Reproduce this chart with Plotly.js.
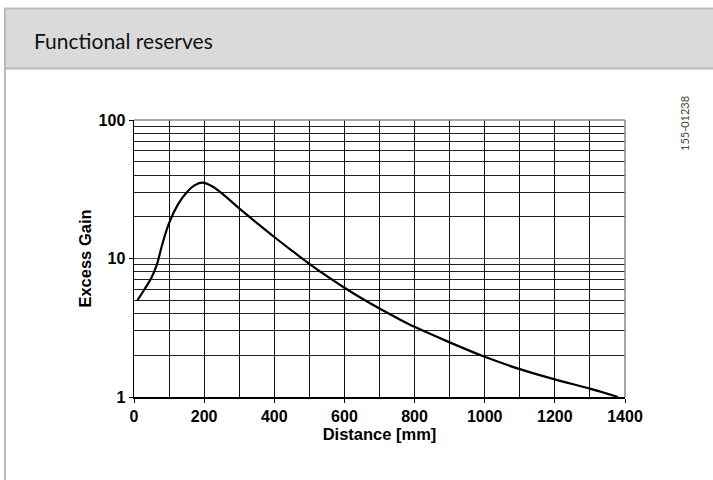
<!DOCTYPE html>
<html><head><meta charset="utf-8">
<script src="https://cdn.plot.ly/plotly-3.0.1.min.js"></script>
<style>html,body{margin:0;padding:0;background:#fff;}#chart{width:713px;height:480px;}</style>
</head><body><div id="chart"></div>
<script>
// Data
const distanceMm = [10, 30, 50, 65, 80, 100, 125, 150, 175, 195, 225, 260, 300, 350, 400, 450, 500, 550, 600, 650, 700, 750, 800, 900, 1000, 1100, 1200, 1300, 1380];
const excessGain = [5.0, 6.0, 7.3, 9.0, 12.5, 18.0, 24.5, 30.0, 34.0, 35.3, 33.0, 28.2, 23.0, 18.1, 14.3, 11.4, 9.15, 7.45, 6.15, 5.14, 4.35, 3.72, 3.21, 2.48, 1.95, 1.59, 1.34, 1.15, 1.0];
const xTickVals = [0, 200, 400, 600, 800, 1000, 1200, 1400];
const yTickVals = [1, 10, 100];
const yTickText = ['1', '10', '100'];
const yGridVals = [2,3,4,5,6,7,8,9,20,30,40,50,60,70,80,90];
const titleText = 'Functional reserves';
const xTitle = 'Distance [mm]';
const yTitle = 'Excess Gain';
const docId = '155-01238';

// geometry of plot area in pixels
const L = 134, R = 625, T = 120, B = 397, W = 713, H = 480;
const px = x => (x - L) / (R - L);
const py = y => (B - y) / (B - T);

const trace = {
  x: distanceMm, y: excessGain, type: 'scatter', mode: 'lines',
  line: {color: '#000', width: 2.2, shape: 'spline', smoothing: 1},
  hoverinfo: 'skip', showlegend: false
};

const fam = 'Liberation Sans, Arial, sans-serif';
const tickFont = {family: fam, size: 16, color: '#000', weight: 'bold'};
const axTitleFont = {family: fam, size: 16.5, color: '#000', weight: 'bold'};

const layout = {
  width: W, height: H,
  margin: {l: L, r: W - R, t: T, b: H - B, pad: 0},
  paper_bgcolor: '#fff', plot_bgcolor: '#fff',
  showlegend: false,
  xaxis: {
    range: [0, 1400], tickvals: xTickVals, ticks: 'outside', ticklen: 4, tickcolor: '#000', tickwidth: 1,
    showline: true, linecolor: '#000', linewidth: 1.5, mirror: false,
    showgrid: true, gridcolor: '#111', gridwidth: 1,
    minor: {dtick: 100, tick0: 0, showgrid: true, gridcolor: '#111', gridwidth: 1, ticks: ''},
    zeroline: false, fixedrange: true,
    tickfont: tickFont,
    title: {text: xTitle, font: axTitleFont, standoff: 0}
  },
  yaxis: {
    type: 'log', range: [0, 2], tickvals: yTickVals, ticktext: yTickText,
    ticks: 'outside', ticklen: 4, tickcolor: '#000', tickwidth: 1,
    showline: true, linecolor: '#000', linewidth: 1.5,
    showgrid: true, gridcolor: '#555', gridwidth: 1,
    minor: {tickvals: yGridVals, showgrid: true, gridcolor: '#222', gridwidth: 1, ticks: ''},
    zeroline: false, fixedrange: true,
    tickfont: tickFont,
    title: {text: yTitle, font: axTitleFont, standoff: 3}
  },
  shapes: [
    {type: 'rect', xref: 'paper', yref: 'paper', x0: px(5), x1: px(713), y0: py(68), y1: py(9),
     fillcolor: '#dadada', line: {width: 0}, layer: 'below'},
    {type: 'line', xref: 'paper', yref: 'paper', x0: px(4), x1: px(713), y0: py(8.5), y1: py(8.5), line: {color: '#bbbbbb', width: 2}},
    {type: 'line', xref: 'paper', yref: 'paper', x0: px(4), x1: px(713), y0: py(68.5), y1: py(68.5), line: {color: '#bbbbbb', width: 2}},
    {type: 'line', xref: 'paper', yref: 'paper', x0: px(5), x1: px(5), y0: py(8), y1: py(480), line: {color: '#bbbbbb', width: 2}},
    {type: 'line', xref: 'paper', yref: 'paper', x0: 0, x1: 1, y0: 1, y1: 1, line: {color: '#888', width: 1.5}},
    {type: 'line', xref: 'paper', yref: 'paper', x0: 1, x1: 1, y0: 0, y1: 1, line: {color: '#888', width: 1.5}}
  ],
  annotations: [
    {text: titleText, xref: 'paper', yref: 'paper', x: px(32), y: py(40.5), xanchor: 'left', yanchor: 'middle',
     showarrow: false, font: {family: 'Lato, Open Sans, sans-serif', size: 21, color: '#111'}},
    {text: docId, xref: 'paper', yref: 'paper', x: px(684), y: py(124), xanchor: 'center', yanchor: 'middle',
     textangle: -90, showarrow: false, font: {family: 'Lato, Open Sans, sans-serif', size: 11, color: '#444'}}
  ]
};

Plotly.newPlot('chart', [trace], layout, {staticPlot: true, displayModeBar: false});
</script>
</body></html>
